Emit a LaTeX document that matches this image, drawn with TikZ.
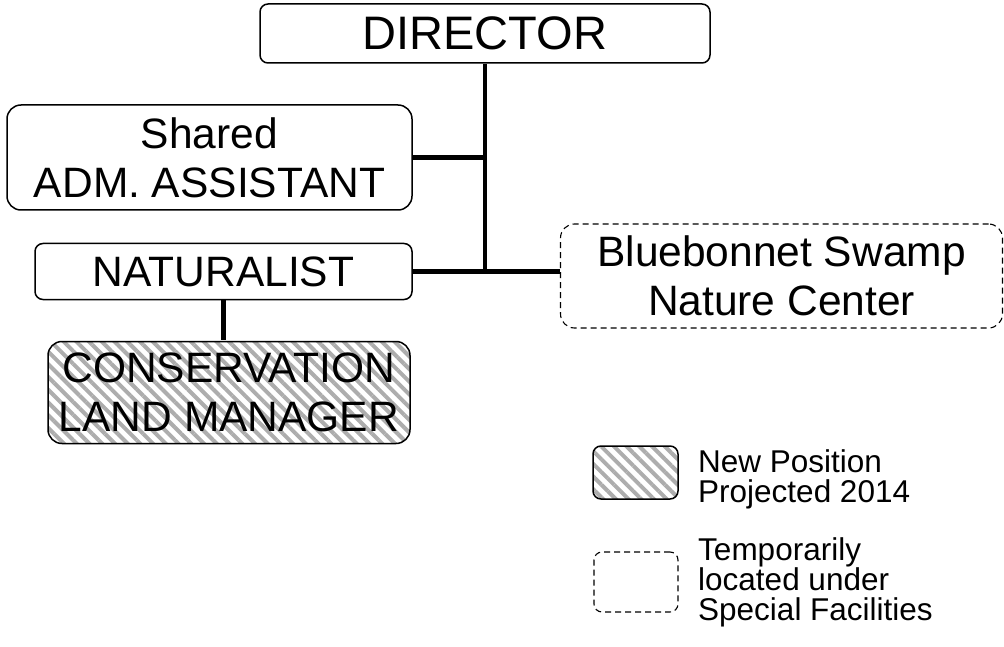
\documentclass[tikz,border=0pt]{standalone}
\usepackage{fontspec}
\setmainfont{Liberation Sans}
\usetikzlibrary{patterns.meta}
\begin{document}
\begin{tikzpicture}[x=1pt,y=-1pt,
  box/.style={draw, line width=1.5pt, align=center, inner sep=0pt},
  smallr/.style={rounded corners=8pt},
  bigr/.style={rounded corners=14pt},
  hatched/.style={pattern={Lines[angle=-45,distance=9pt,line width=4pt]}, pattern color=black!32},
  temp/.style={line width=1.1pt, dash pattern=on 6pt off 4pt},
  link/.style={line width=4.8pt},
  big/.style={font=\fontsize{47}{54}\selectfont},
  mid/.style={font=\fontsize{42.5}{49}\selectfont},
  note/.style={font=\fontsize{31.5}{30}\selectfont, align=left, anchor=north west, inner sep=0pt}
]
\useasboundingbox (0,0) rectangle (1004,647);

% organisation boxes
\node[box, smallr, big, minimum width=450pt, minimum height=59pt] (director) at (485,33.5) {DIRECTOR};
\node[box, bigr, mid, minimum width=405pt, minimum height=105pt] (adm) at (209.5,157.5) {Shared\\ADM. ASSISTANT};
\node[box, smallr, mid, minimum width=377pt, minimum height=56pt] (nat) at (223.5,271.5) {NATURALIST};
\node[box, bigr, mid, hatched, minimum width=362pt, minimum height=102pt] (clm) at (229,392.5) {CONSERVATION\\LAND MANAGER};
\node[box, bigr, mid, temp, minimum width=442pt, minimum height=104pt] (blue) at (781.5,276) {Bluebonnet Swamp\\Nature Center};

% connectors
\draw[link] (director.south) -- (director.south |- nat.east);
\draw[link] (adm.east) -- (adm.east -| director.south);
\draw[link] (nat.east) -- (nat.east -| blue.west);
\draw[link] (nat.south) -- (nat.south |- clm.north);

% legend
\node[box, smallr, hatched, minimum width=85pt, minimum height=53pt] (keynew) at (635.5,472.5) {};
\node[box, smallr, temp, minimum width=84pt, minimum height=60pt] (keytemp) at (636,582) {};
\node[note] (keynewtext) at (698,449) {New Position\\Projected 2014};
\node[note] (keytemptext) at (698,537) {Temporarily\\located under\\Special Facilities};
\end{tikzpicture}
\end{document}
